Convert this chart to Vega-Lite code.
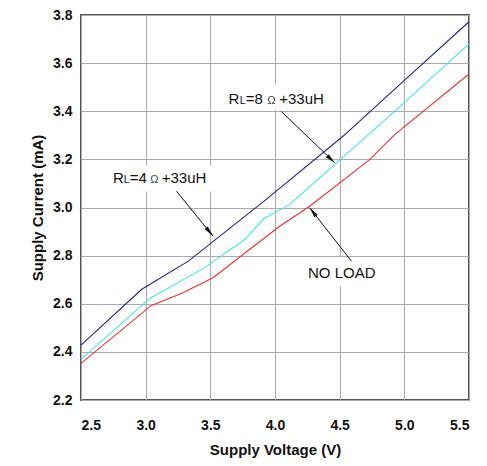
{
  "$schema": "https://vega.github.io/schema/vega-lite/v6.json",
  "width": 388,
  "height": 385,
  "autosize": {"type": "none"},
  "padding": {"left": 81, "top": 15, "right": 18, "bottom": 66},
  "background": "white",
  "config": {
    "view": {"stroke": "#555555", "strokeWidth": 2},
    "font": "Liberation Sans",
    "axis": {
      "labelFont": "Liberation Sans",
      "titleFont": "Liberation Sans",
      "labelFontWeight": "bold",
      "labelFontSize": 14,
      "labelColor": "#111111",
      "titleFontWeight": "bold",
      "titleFontSize": 15,
      "titleColor": "#111111",
      "ticks": false,
      "domain": false,
      "gridColor": "#aaaaaa",
      "gridWidth": 1
    }
  },
  "datasets": {
    "curves": [
      {"series": "RL=4", "voltage": 2.5, "current": 2.428},
      {"series": "RL=4", "voltage": 2.97, "current": 2.66},
      {"series": "RL=4", "voltage": 3.33, "current": 2.777},
      {"series": "RL=4", "voltage": 3.93, "current": 3.033},
      {"series": "RL=4", "voltage": 4.53, "current": 3.298},
      {"series": "RL=4", "voltage": 5.0, "current": 3.528},
      {"series": "RL=4", "voltage": 5.5, "current": 3.772},
      {"series": "RL=8", "voltage": 2.5, "current": 2.369},
      {"series": "RL=8", "voltage": 3.031, "current": 2.622},
      {"series": "RL=8", "voltage": 3.456, "current": 2.75},
      {"series": "RL=8", "voltage": 3.766, "current": 2.867},
      {"series": "RL=8", "voltage": 3.913, "current": 2.953},
      {"series": "RL=8", "voltage": 4.114, "current": 3.013},
      {"series": "RL=8", "voltage": 4.448, "current": 3.172},
      {"series": "RL=8", "voltage": 4.912, "current": 3.393},
      {"series": "RL=8", "voltage": 5.5, "current": 3.68},
      {"series": "NO LOAD", "voltage": 2.5, "current": 2.352},
      {"series": "NO LOAD", "voltage": 3.044, "current": 2.593},
      {"series": "NO LOAD", "voltage": 3.276, "current": 2.643},
      {"series": "NO LOAD", "voltage": 3.521, "current": 2.708},
      {"series": "NO LOAD", "voltage": 4.036, "current": 2.922},
      {"series": "NO LOAD", "voltage": 4.268, "current": 3.005},
      {"series": "NO LOAD", "voltage": 4.732, "current": 3.199},
      {"series": "NO LOAD", "voltage": 4.925, "current": 3.303},
      {"series": "NO LOAD", "voltage": 5.5, "current": 3.555}
    ],
    "boxes": [
      {"x1": 3.624, "x2": 4.475, "y1": 3.407, "y2": 3.511},
      {"x1": 2.668, "x2": 3.588, "y1": 3.067, "y2": 3.175},
      {"x1": 4.214, "x2": 4.886, "y1": 2.672, "y2": 2.793}
    ],
    "arrows": [
      {"x1": 4.049, "y1": 3.399, "x2": 4.462, "y2": 3.186, "hx": 4.434, "hy": 3.2, "angle": 134},
      {"x1": 3.238, "y1": 3.068, "x2": 3.521, "y2": 2.881, "hx": 3.494, "hy": 2.899, "angle": 141},
      {"x1": 4.591, "y1": 2.777, "x2": 4.268, "y2": 2.999, "hx": 4.293, "hy": 2.982, "angle": 322}
    ],
    "mainText": [
      {"x": 3.64, "y": 3.431, "label": "R"},
      {"x": 3.774, "y": 3.431, "label": "=8"},
      {"x": 4.033, "y": 3.431, "label": "+33uH"},
      {"x": 2.747, "y": 3.1, "label": "R"},
      {"x": 2.877, "y": 3.1, "label": "=4"},
      {"x": 3.124, "y": 3.1, "label": "+33uH"},
      {"x": 4.255, "y": 2.705, "label": "NO LOAD"}
    ],
    "subText": [
      {"x": 3.727, "y": 3.431, "label": "L"},
      {"x": 2.83, "y": 3.1, "label": "L"}
    ],
    "omegaText": [
      {"x": 3.94, "y": 3.431, "label": "Ω"},
      {"x": 3.035, "y": 3.1, "label": "Ω"}
    ]
  },
  "layer": [
    {
      "data": {"name": "boxes"},
      "mark": {"type": "rect", "color": "white"},
      "encoding": {
        "x": {"field": "x1", "type": "quantitative", "scale": {"domain": [2.5, 5.5], "nice": false, "zero": false},
              "axis": {"values": [2.5, 3.0, 3.5, 4.0, 4.5, 5.0, 5.5], "format": ".1f", "title": "Supply Voltage (V)", "labelPadding": 18, "titlePadding": 10}},
        "x2": {"field": "x2"},
        "y": {"field": "y1", "type": "quantitative", "scale": {"domain": [2.2, 3.8], "nice": false, "zero": false},
              "axis": {"values": [2.2, 2.4, 2.6, 2.8, 3.0, 3.2, 3.4, 3.6, 3.8], "format": ".1f", "title": "Supply Current (mA)", "labelPadding": 9, "titlePadding": 7}},
        "y2": {"field": "y2"}
      }
    },
    {
      "data": {"name": "curves"},
      "mark": {"type": "line", "strokeWidth": 1.1},
      "encoding": {
        "x": {"field": "voltage", "type": "quantitative"},
        "y": {"field": "current", "type": "quantitative"},
        "color": {"field": "series", "type": "nominal",
                  "scale": {"domain": ["RL=4", "RL=8", "NO LOAD"], "range": ["#22228a", "#3fe3ea", "#e8302c"]},
                  "legend": null}
      }
    },
    {
      "data": {"name": "arrows"},
      "mark": {"type": "rule", "color": "#111111", "strokeWidth": 1},
      "encoding": {
        "x": {"field": "x1", "type": "quantitative"},
        "y": {"field": "y1", "type": "quantitative"},
        "x2": {"field": "x2"},
        "y2": {"field": "y2"}
      }
    },
    {
      "data": {"name": "arrows"},
      "mark": {"type": "point", "shape": "M0,-1L0.4,1L-0.4,1Z", "filled": true, "color": "#111111", "opacity": 1, "size": 110},
      "encoding": {
        "x": {"field": "hx", "type": "quantitative"},
        "y": {"field": "hy", "type": "quantitative"},
        "angle": {"field": "angle", "type": "quantitative", "scale": null}
      }
    },
    {
      "data": {"name": "mainText"},
      "mark": {"type": "text", "align": "left", "baseline": "alphabetic", "fontSize": 15, "color": "#111111", "font": "Liberation Sans"},
      "encoding": {
        "x": {"field": "x", "type": "quantitative"},
        "y": {"field": "y", "type": "quantitative"},
        "text": {"field": "label"}
      }
    },
    {
      "data": {"name": "subText"},
      "mark": {"type": "text", "align": "left", "baseline": "alphabetic", "fontSize": 10.5, "color": "#111111", "font": "Liberation Sans"},
      "encoding": {
        "x": {"field": "x", "type": "quantitative"},
        "y": {"field": "y", "type": "quantitative"},
        "text": {"field": "label"}
      }
    },
    {
      "data": {"name": "omegaText"},
      "mark": {"type": "text", "align": "left", "baseline": "alphabetic", "fontSize": 11, "color": "#444444", "font": "Liberation Sans"},
      "encoding": {
        "x": {"field": "x", "type": "quantitative"},
        "y": {"field": "y", "type": "quantitative"},
        "text": {"field": "label"}
      }
    }
  ]
}
